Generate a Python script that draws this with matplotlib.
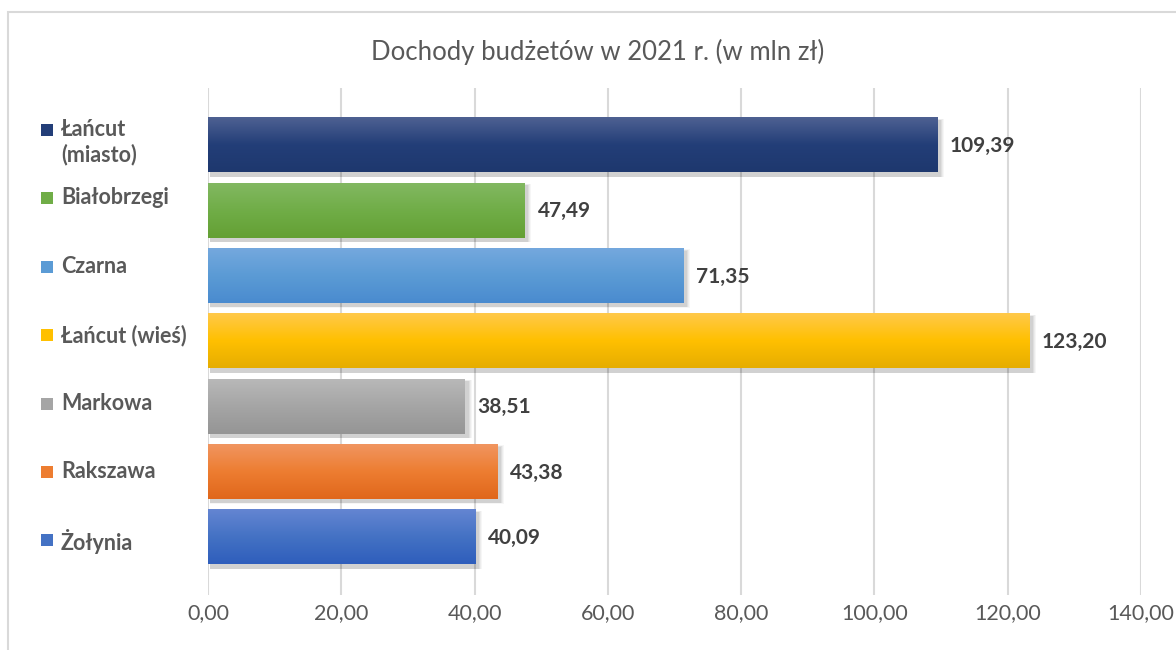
import matplotlib
matplotlib.use("Agg")
import matplotlib.pyplot as plt
import numpy as np
from matplotlib.colors import LinearSegmentedColormap
from matplotlib.patches import Rectangle
from matplotlib.ticker import FuncFormatter, MultipleLocator

plt.rcParams['font.family'] = ['Lato', 'DejaVu Sans']

title = "Dochody budżetów w 2021 r. (w mln zł)"
categories = ["Łańcut\n(miasto)", "Białobrzegi", "Czarna", "Łańcut (wieś)",
              "Markowa", "Rakszawa", "Żołynia"]
values = [109.39, 47.49, 71.35, 123.20, 38.51, 43.38, 40.09]
# (top, middle, bottom) gradient colours
gradients = [
    ("#4E6192", "#233E78", "#1E386E"),
    ("#82B862", "#70AD47", "#64A034"),
    ("#74A8DE", "#5B9BD5", "#4A8BCF"),
    ("#FFC94A", "#FFC000", "#E6AD00"),
    ("#B8B8B8", "#A5A5A5", "#959595"),
    ("#F19560", "#ED7D31", "#E0671C"),
    ("#6485D2", "#4472C4", "#2F5EBC"),
]
xticks = [0, 20, 40, 60, 80, 100, 120, 140]

W, H = 1176, 650
fig = plt.figure(figsize=(W / 100, H / 100), dpi=100)
fig.patch.set_facecolor("white")

# outer chart frame
fig.add_artist(Rectangle((8 / W, -0.05), 1.1, 1 - 12 / H + 0.05,
                         transform=fig.transFigure, fill=False,
                         edgecolor="#D9D9D9", linewidth=1.5))

ax = fig.add_axes([208 / W, 1 - 595 / H, (1141 - 208) / W, (595 - 88) / H])
n = len(categories)
for s in ax.spines.values():
    s.set_visible(False)
ax.xaxis.set_major_locator(MultipleLocator(20))
ax.grid(axis="x", color="#D9D9D9", linewidth=1.5)
ax.set_axisbelow(True)
ax.set_yticks([])
ax.tick_params(axis="x", length=0, pad=6, labelsize=15.5, labelcolor="#595959")
ax.xaxis.set_major_formatter(FuncFormatter(lambda v, p: f"{v:.2f}".replace(".", ",")))

bh = 0.84
xpp = (xticks[-1] - xticks[0]) / (1141 - 208)   # data units per pixel (x)
ypp = 1 / 65.3                                   # data units per pixel (y)
ys = np.arange(n)

bars = ax.barh(ys, values, height=bh, color="none", zorder=3)
for i, (b, g, v) in enumerate(zip(bars, gradients, values)):
    x0, y0 = b.get_x(), b.get_y()
    w, h = b.get_width(), b.get_height()
    # soft shadow
    for k, a in enumerate([0.035, 0.04, 0.05, 0.06]):
        grow = (4 - k) * 1.0
        ax.add_patch(Rectangle((x0 + 2 * xpp, y0 + (3 - grow * 0.5) * ypp),
                               w + (1 + grow) * xpp, h + (1 + grow * 0.6) * ypp,
                               facecolor="black", alpha=a, edgecolor="none",
                               zorder=2))
    cmap = LinearSegmentedColormap.from_list(f"g{i}", list(g))
    grad = np.linspace(0, 1, 100).reshape(-1, 1)
    ax.imshow(grad, cmap=cmap, aspect="auto", extent=(x0, x0 + w, y0 + h, y0),
              zorder=3, interpolation="bilinear")
    ax.text(v + 13 * xpp, ys[i] + 1 * ypp, f"{v:.2f}".replace(".", ","), va="center",
            ha="left", fontsize=15, fontweight="bold", color="#404040", zorder=4)

ax.set_xlim(xticks[0], xticks[-1])
ax.set_ylim(n - 1 + 0.888, -0.873)

# title
fig.text(598 / W, 1 - 52 / H, title, ha="center", va="center",
         fontsize=18.5, color="#595959")

# legend (left side)
for i, (lab, g) in enumerate(zip(categories, gradients)):
    yc = 130 + i * 68.4
    fig.add_artist(Rectangle((41 / W, 1 - (yc + 6) / H), 12 / W, 12 / H,
                             transform=fig.transFigure, facecolor=g[1],
                             edgecolor="none"))
    fig.text(61 / W, 1 - (yc - 11) / H, lab, ha="left", va="top",
             fontsize=15.5, fontweight="bold", color="#595959", linespacing=1.2)

fig.savefig("out.png", dpi=100, facecolor="white")
